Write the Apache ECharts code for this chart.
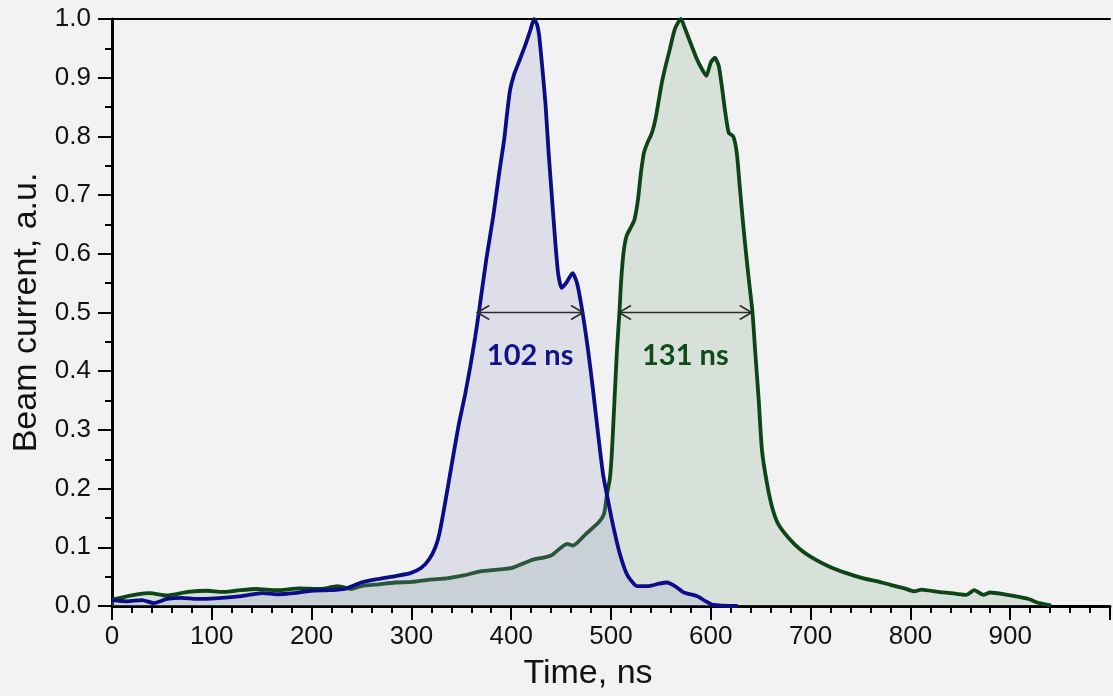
<!DOCTYPE html>
<html>
<head>
<meta charset="utf-8">
<title>Beam current</title>
<script src="https://cdn.jsdelivr.net/npm/echarts@6/dist/echarts.min.js"></script>
<style>
    html, body { margin: 0; padding: 0; background: #f2f2f2; }
    #echart1 { width: 1113px; height: 696px; }
</style>
</head>
<body>
<div id="echart1"></div>
<script>
// blue pulse (time in ns, current in a.u.)
var blueTime = [0, 15, 30, 42, 55, 70, 85, 103, 130, 151, 165, 182, 199, 219, 233, 250, 267, 284, 299, 310, 318, 324,
    328, 333, 340, 347, 354, 359, 364, 368, 375, 382, 388, 393, 396, 399, 403, 408, 414, 419, 423, 426, 428, 431,
    434.5, 437.5, 441, 444, 447, 450.5, 455, 461.5, 466, 471, 477, 482, 487, 492, 497, 502.5, 509, 516, 526, 538,
    548, 556, 564, 573, 586, 595, 602, 627];
var blueCurrent = [0.010, 0.008, 0.010, 0.005, 0.012, 0.014, 0.012, 0.013, 0.017, 0.022, 0.020, 0.022, 0.026, 0.027,
    0.029, 0.040, 0.046, 0.051, 0.056, 0.065, 0.080, 0.100, 0.123, 0.168, 0.237, 0.305, 0.362, 0.408, 0.459, 0.505,
    0.590, 0.664, 0.738, 0.795, 0.841, 0.880, 0.906, 0.928, 0.955, 0.980, 1.0, 0.99, 0.972, 0.920, 0.852, 0.772,
    0.692, 0.624, 0.567, 0.542, 0.550, 0.567, 0.550, 0.505, 0.436, 0.368, 0.294, 0.225, 0.180, 0.134, 0.088, 0.054,
    0.034, 0.034, 0.038, 0.040, 0.034, 0.023, 0.017, 0.008, 0.002, 0.0];

// green pulse
var greenTime = [0, 14, 25, 38, 55, 76, 96, 110, 124, 144, 165, 188, 209, 226, 240, 250, 267, 284, 301, 318, 335, 352,
    369, 386, 401, 420, 440, 456, 462, 475, 488, 493, 496, 499, 501, 503.5, 506, 508.5, 510, 512.5, 515.5,
    520.5, 523.5, 527, 530, 533, 536.5, 541, 544.5, 548, 551, 554, 559, 564, 570, 573, 579.5, 586, 591, 595.5, 600,
    604, 608, 611.5, 614.5, 618, 622.5, 626, 629, 632, 635.3, 638.5, 641.7, 644.4, 648, 651.3, 656.4, 661.5, 667.5,
    678, 690, 705, 719, 736, 753, 767, 780, 794, 804, 811, 828, 845, 856, 864, 873, 880, 897, 910, 920, 927, 941];
var greenCurrent = [0.011, 0.016, 0.020, 0.022, 0.018, 0.024, 0.026, 0.024, 0.026, 0.029, 0.027, 0.030, 0.029, 0.034,
    0.029, 0.034, 0.037, 0.040, 0.041, 0.045, 0.047, 0.052, 0.059, 0.062, 0.065, 0.078, 0.086, 0.106, 0.103, 0.123,
    0.143, 0.157, 0.190, 0.219, 0.265, 0.351, 0.436, 0.502, 0.550, 0.601, 0.630, 0.647, 0.658, 0.692,
    0.738, 0.772, 0.789, 0.806, 0.829, 0.863, 0.892, 0.915, 0.949, 0.983, 1.0, 0.989, 0.960, 0.932, 0.915, 0.903,
    0.926, 0.934, 0.920, 0.880, 0.841, 0.806, 0.800, 0.772, 0.715, 0.658, 0.601, 0.550, 0.502, 0.436, 0.351, 0.265,
    0.208, 0.168, 0.140, 0.116, 0.096, 0.079, 0.067, 0.056, 0.047, 0.042, 0.036, 0.030, 0.025, 0.028, 0.024, 0.021,
    0.019, 0.027, 0.019, 0.023, 0.019, 0.015, 0.011, 0.006, 0.001];

// FWHM markers
var fwhmStart = [366, 508];
var fwhmEnd = [472, 641];
var fwhmLevel = [0.5, 0.5];
var fwhmLabels = ['102 ns', '131 ns'];

var xTicks = [0, 100, 200, 300, 400, 500, 600, 700, 800, 900];

function pairs(xs, ys) {
    var out = [];
    for (var i = 0; i < xs.length; i++) {
        out.push([xs[i], ys[i]]);
    }
    return out;
}

var fwhmData = [];
for (var i = 0; i < fwhmStart.length; i++) {
    fwhmData.push([fwhmStart[i], fwhmEnd[i], fwhmLevel[i]]);
}
var labelColors = ['#12128c', '#0f4a1c'];

function renderArrow(params, api) {
    var p1 = api.coord([api.value(0), api.value(2)]);
    var p2 = api.coord([api.value(1), api.value(2)]);
    var head = 12, half = 7;
    var stroke = { stroke: '#2b2b2b', lineWidth: 1.6, fill: null };
    return {
        type: 'group',
        children: [{
            type: 'line',
            shape: { x1: p1[0], y1: p1[1], x2: p2[0], y2: p2[1] },
            style: stroke
        }, {
            type: 'polyline',
            shape: { points: [[p1[0] + head, p1[1] - half], [p1[0], p1[1]], [p1[0] + head, p1[1] + half]] },
            style: stroke
        }, {
            type: 'polyline',
            shape: { points: [[p2[0] - head, p2[1] - half], [p2[0], p2[1]], [p2[0] - head, p2[1] + half]] },
            style: stroke
        }, {
            type: 'text',
            x: (p1[0] + p2[0]) / 2,
            y: p1[1] + 43,
            style: {
                text: fwhmLabels[params.dataIndex],
                fill: labelColors[params.dataIndex],
                font: 'bold 29px Lato, "Open Sans", sans-serif',
                align: 'center',
                verticalAlign: 'middle'
            }
        }]
    };
}

var tickFont = '"Liberation Sans", Arial, sans-serif';

var myChart = echarts.init(document.getElementById('echart1'));
var option = {
    backgroundColor: '#f2f2f2',
    animation: false,
    grid: {
        left: 112,
        right: -49,
        top: 19,
        bottom: 90
    },
    xAxis: [{
        type: 'value',
        min: 0,
        max: 1000,
        interval: 100,
        name: 'Time, ns',
        nameLocation: 'middle',
        nameGap: 51,
        nameTextStyle: {
            fontSize: 34,
            fontFamily: tickFont,
            color: '#111',
            padding: [0, 46, 0, 0]
        },
        axisLine: { lineStyle: { color: '#000', width: 3 } },
        axisTick: { length: 14, lineStyle: { color: '#000', width: 2 } },
        minorTick: { show: true, splitNumber: 5, length: 7, lineStyle: { color: '#000', width: 2 } },
        axisLabel: {
            fontSize: 26,
            fontFamily: tickFont,
            color: '#111',
            margin: 18,
            formatter: function (v) {
                return xTicks.indexOf(v) >= 0 ? String(v) : '';
            }
        },
        splitLine: { show: false }
    }, {
        type: 'value',
        position: 'top',
        min: 0,
        max: 1000,
        axisLine: { lineStyle: { color: '#000', width: 2 } },
        axisTick: { show: false },
        axisLabel: { show: false },
        splitLine: { show: false }
    }],
    yAxis: [{
        type: 'value',
        min: 0,
        max: 1,
        interval: 0.1,
        name: 'Beam current, a.u.',
        nameLocation: 'middle',
        nameGap: 66,
        nameTextStyle: {
            fontSize: 34,
            fontFamily: tickFont,
            color: '#111'
        },
        axisLine: { show: true, lineStyle: { color: '#000', width: 3 } },
        axisTick: { show: true, length: 14, lineStyle: { color: '#000', width: 2 } },
        minorTick: { show: true, splitNumber: 2, length: 7, lineStyle: { color: '#000', width: 2 } },
        axisLabel: {
            fontSize: 26,
            fontFamily: tickFont,
            color: '#111',
            margin: 21,
            formatter: function (v) {
                return v.toFixed(1);
            }
        },
        splitLine: { show: false }
    }],
    series: [{
        name: 'blue',
        type: 'line',
        data: pairs(blueTime, blueCurrent),
        showSymbol: false,
        smooth: 0.2,
        lineStyle: { color: '#0c0c88', width: 3.8 },
        areaStyle: { color: 'rgba(150,150,205,0.3)' },
        z: 3
    }, {
        name: 'green',
        type: 'line',
        data: pairs(greenTime, greenCurrent),
        showSymbol: false,
        smooth: 0.2,
        lineStyle: { color: '#0d4519', width: 3.8 },
        areaStyle: { color: 'rgba(100,150,105,0.26)' },
        z: 2
    }, {
        name: 'fwhm',
        type: 'custom',
        renderItem: renderArrow,
        data: fwhmData,
        z: 5
    }]
};
myChart.setOption(option);
</script>
</body>
</html>
